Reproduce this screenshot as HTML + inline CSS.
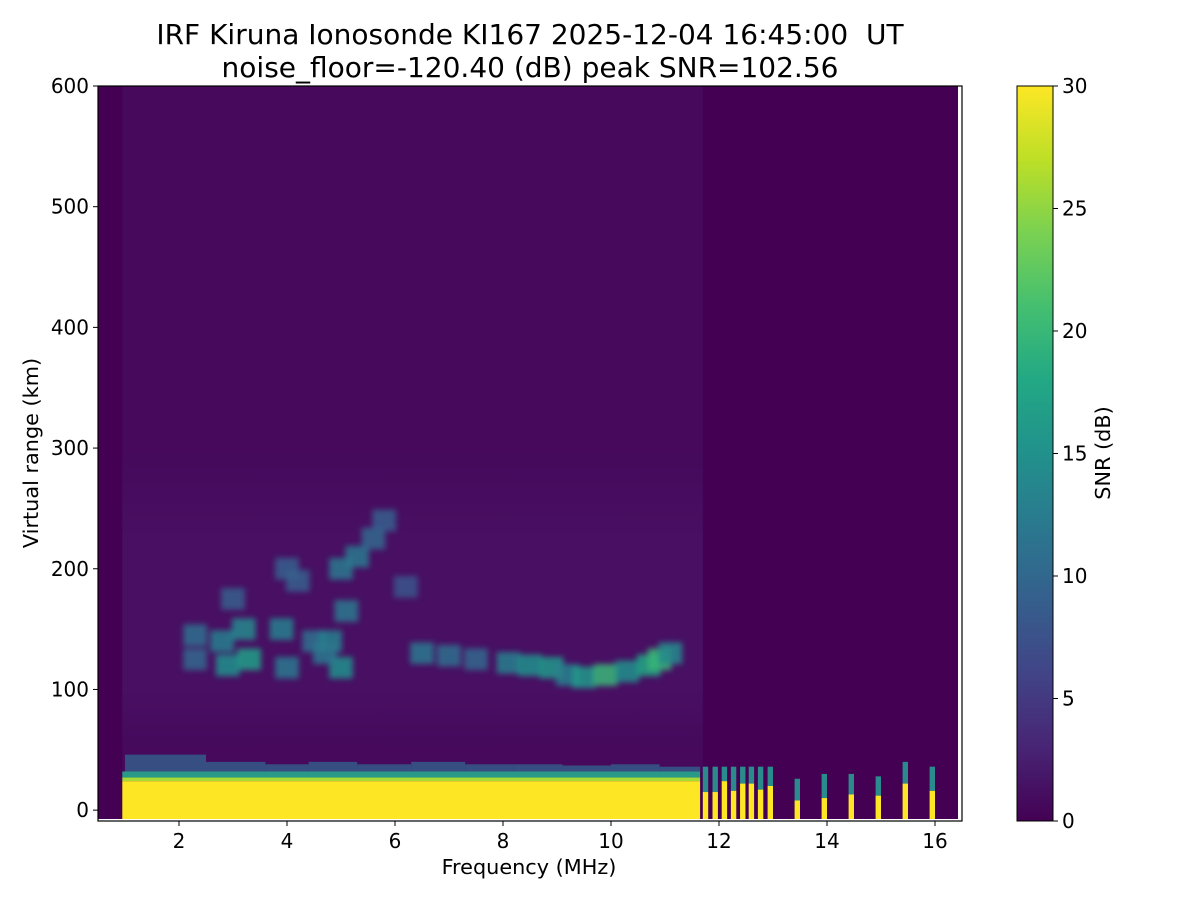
<!DOCTYPE html>
<html><head><meta charset="utf-8"><style>
html,body{margin:0;padding:0;background:#fff;}
svg{display:block;font-family:"DejaVu Sans","Liberation Sans",sans-serif;}
</style></head><body>
<svg id="chart" width="1200" height="900" viewBox="0 0 1200 900">
<defs>
<linearGradient id="vir" x1="0" y1="1" x2="0" y2="0">
<stop offset="0" stop-color="#440154"/><stop offset="0.1" stop-color="#482475"/><stop offset="0.2" stop-color="#414487"/><stop offset="0.3" stop-color="#355f8d"/><stop offset="0.4" stop-color="#2a788e"/><stop offset="0.5" stop-color="#21918c"/><stop offset="0.6" stop-color="#22a884"/><stop offset="0.7" stop-color="#44bf70"/><stop offset="0.8" stop-color="#7ad151"/><stop offset="0.9" stop-color="#bddf26"/><stop offset="1" stop-color="#fde725"/>
</linearGradient>
<linearGradient id="zone" x1="0" y1="0" x2="0" y2="1">
<stop offset="0" stop-color="#480f62" stop-opacity="0"/><stop offset="0.3" stop-color="#480f62" stop-opacity="1"/><stop offset="0.8" stop-color="#480f62" stop-opacity="1"/><stop offset="1" stop-color="#480f62" stop-opacity="0"/>
</linearGradient>
<filter id="blur" x="-30%" y="-30%" width="160%" height="160%"><feGaussianBlur stdDeviation="3"/></filter>
<clipPath id="clip"><rect x="98" y="86" width="860" height="733"/></clipPath>
</defs>
<text x="530" y="44" text-anchor="middle" font-size="28" xml:space="preserve">IRF Kiruna Ionosonde KI167 2025-12-04 16:45:00  UT</text>
<text x="530" y="77" text-anchor="middle" font-size="28">noise_floor=-120.40 (dB) peak SNR=102.56</text>
<g id="plot" clip-path="url(#clip)"></g>
<g id="axes"></g>
<rect x="1017" y="86" width="36" height="735" fill="url(#vir)"/>
<rect x="1017" y="86" width="36" height="735" fill="none" stroke="#000" stroke-width="1"/>
<g id="cbar"></g>
<text transform="translate(1110,453) rotate(-90)" text-anchor="middle" font-size="20.8">SNR (dB)</text>
<text x="529" y="874" text-anchor="middle" font-size="20.8">Frequency (MHz)</text>
<text transform="translate(38,453) rotate(-90)" text-anchor="middle" font-size="20.8">Virtual range (km)</text>
</svg>
<script>
const xTicks=[2,4,6,8,10,12,14,16];
const yTicks=[0,100,200,300,400,500,600];
const cTicks=[0,5,10,15,20,25,30];
// echo traces (freq MHz, height km, snr dB)
const echoFreq=[2.3,2.3,2.8,2.9,3.2,3.3,3.9,4.0,4.2,4.5,4.8,5.0,5.1,5.0,5.3,5.6,5.8,6.5,7.0,7.5,8.1,8.5,8.9,9.2,9.5,9.9,10.3,10.7,10.9,11.1,4.0,4.7,3.0,6.2];
const echoHeight=[145,125,140,120,150,125,150,118,190,140,140,118,165,200,210,225,240,130,128,125,122,120,118,112,110,112,115,120,125,130,200,130,175,185];
const echoSnr=[11,10,13,15,14,17,13,12,9,11,13,15,12,12,12,10,9,12,11,10,13,15,16,13,16,20,15,18,20,14,9,12,9,8];
// discrete channels above 11.7 MHz
const chanFreq=[11.75,11.93,12.1,12.27,12.44,12.6,12.77,12.95,13.45,13.95,14.45,14.95,15.45,15.95];
const chanYellow=[15,15,24,16,22,22,17,20,8,10,13,12,22,16];
const chanGreen=[28,28,28,28,28,28,28,28,18,22,22,20,32,28];
// ground band
const bandStart=0.95, bandEnd=11.65, bandYellowTop=24, bandGreenTop=32;
const fringeFreq=[1.0,2.5,3.6,4.4,5.3,6.3,7.3,8.2,9.1,10.0,10.9];
const fringeTop=[46,40,38,40,38,40,38,38,37,38,36];

const X0=0.5,X1=16.5,Y0=-9,Y1=600;
const px0=98,px1=962,py0=821,py1=86;
const sx=f=>px0+(f-X0)/(X1-X0)*(px1-px0);
const sy=h=>py0-(h-Y0)/(Y1-Y0)*(py0-py1);
const vir=["#440154","#482475","#414487","#355f8d","#2a788e","#21918c","#22a884","#44bf70","#7ad151","#bddf26","#fde725"];
function col(v){let t=Math.max(0,Math.min(1,v/30))*10;let i=Math.min(9,Math.floor(t));let f=t-i;
const a=vir[i],b=vir[i+1];const p=(s,k)=>parseInt(s.substr(k,2),16);
let r=[1,3,5].map(k=>Math.round(p(a,k)+(p(b,k)-p(a,k))*f));return `rgb(${r.join(',')})`;}
const NS="http://www.w3.org/2000/svg";
function mk(tag,attrs,parent){const e=document.createElementNS(NS,tag);for(const k in attrs)e.setAttribute(k,attrs[k]);parent.appendChild(e);return e;}
const plot=document.getElementById('plot');
let r;
r=mk('rect',{x:98,y:86,width:864,height:735,fill:'#440154'},plot);


r=mk('rect',{x:sx(bandStart),y:sy(600),width:sx(11.7)-sx(bandStart),height:sy(bandGreenTop)-sy(600),fill:'#46095c'},plot);


r=mk('rect',{x:sx(bandStart),y:sy(300),width:sx(11.7)-sx(bandStart),height:sy(50)-sy(300),fill:'url(#zone)'},plot);


const fg=mk('g',{},plot);


for(let i=0;i<fringeFreq.length;i++){
 const x2=i<fringeFreq.length-1?fringeFreq[i+1]:bandEnd;
 r=mk('rect',{x:sx(fringeFreq[i]),y:sy(fringeTop[i]),width:sx(x2)-sx(fringeFreq[i]),height:sy(bandGreenTop)-sy(fringeTop[i]),fill:'#31668e',opacity:0.75},fg);
 
 
}
r=mk('rect',{x:sx(bandStart),y:sy(bandGreenTop),width:sx(bandEnd)-sx(bandStart),height:sy(bandYellowTop+3)-sy(bandGreenTop),fill:'#2a9a88'},plot);


r=mk('rect',{x:sx(bandStart),y:sy(bandYellowTop+3),width:sx(bandEnd)-sx(bandStart),height:sy(bandYellowTop)-sy(bandYellowTop+3),fill:'#a6db35'},plot);


r=mk('rect',{x:sx(bandStart),y:sy(bandYellowTop),width:sx(bandEnd)-sx(bandStart),height:sy(Y0)-sy(bandYellowTop),fill:'#fde725'},plot);


const eg=mk('g',{filter:'url(#blur)'},plot);


for(let i=0;i<echoFreq.length;i++){
 r=mk('rect',{x:sx(echoFreq[i]-0.22),y:sy(echoHeight[i]+9),width:sx(0.44)-sx(0),height:sy(0)-sy(18),fill:col(echoSnr[i]),opacity:0.85},eg);
 
 
}
for(let i=0;i<chanFreq.length;i++){
 const w=sx(0.1)-sx(0);
 r=mk('rect',{x:sx(chanFreq[i])-w/2,y:sy(chanGreen[i]+8),width:w,height:sy(chanYellow[i])-sy(chanGreen[i]+8),fill:'#2a8a8c'},plot);
 
 
 r=mk('rect',{x:sx(chanFreq[i])-w/2,y:sy(chanYellow[i]),width:w,height:sy(Y0)-sy(chanYellow[i]),fill:'#fde725'},plot);
 
 
}
const ax=document.getElementById('axes');
r=mk('rect',{x:px0,y:py1,width:px1-px0,height:py0-py1,fill:'none',stroke:'#000','stroke-width':1.2},ax);


xTicks.forEach(v=>{const x=sx(v);
 mk('line',{x1:x,x2:x,y1:py0,y2:py0+5,stroke:'#000'},ax);
 const t=mk('text',{x:x,y:py0+27,'text-anchor':'middle','font-size':20},ax);t.textContent=v;
 
 });
yTicks.forEach(v=>{const y=sy(v);
 mk('line',{x1:px0-5,x2:px0,y1:y,y2:y,stroke:'#000'},ax);
 const t=mk('text',{x:px0-9,y:y+7,'text-anchor':'end','font-size':20},ax);t.textContent=v;
 
 });
const cb=document.getElementById('cbar');
cTicks.forEach(v=>{const y=821-v/30*735;
 mk('line',{x1:1053,x2:1058,y1:y,y2:y,stroke:'#000'},cb);
 const t=mk('text',{x:1062,y:y+7,'font-size':20},cb);t.textContent=v;
 
 });
</script>
</body></html>
